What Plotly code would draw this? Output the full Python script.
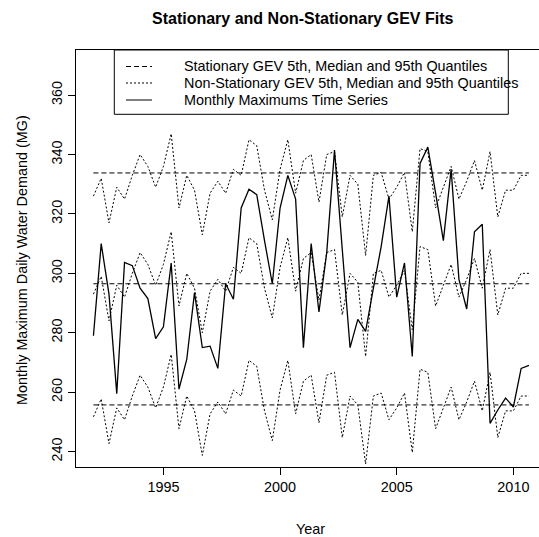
import plotly.graph_objects as go

# ---------------- data ----------------
years = [1992.000, 1992.333, 1992.667, 1993.000, 1993.333, 1993.667,
         1994.000, 1994.333, 1994.667, 1995.000, 1995.333, 1995.667,
         1996.000, 1996.333, 1996.667, 1997.000, 1997.333, 1997.667,
         1998.000, 1998.333, 1998.667, 1999.000, 1999.333, 1999.667,
         2000.000, 2000.333, 2000.667, 2001.000, 2001.333, 2001.667,
         2002.000, 2002.333, 2002.667, 2003.000, 2003.333, 2003.667,
         2004.000, 2004.333, 2004.667, 2005.000, 2005.333, 2005.667,
         2006.000, 2006.333, 2006.667, 2007.000, 2007.333, 2007.667,
         2008.000, 2008.333, 2008.667, 2009.000, 2009.333, 2009.667,
         2010.000, 2010.333, 2010.667]

monthly_max = [279, 310, 293, 259.5, 303.7, 302.6, 295, 291.5, 278, 282,
               303.5, 261, 271, 293.5, 275, 275.5, 268, 296.5, 291.3, 322,
               328.3, 326.5, 311, 296.5, 322, 333, 325, 275, 310, 287,
               307, 341.5, 308, 275, 284.5, 280.5, 295, 309, 326, 292,
               303.5, 272, 337, 342.5, 327, 311, 335, 298, 288, 314,
               316.5, 249.5, 254, 258, 255, 268, 269]

ns_q95 = [326, 332, 317, 329, 325, 333, 340, 336, 329, 336,
          347, 322, 333, 328, 313, 327, 331, 327, 335, 333,
          345, 343, 328, 318, 335, 345, 327, 338, 340, 324,
          340, 341, 319, 333, 330, 306, 333, 334, 325, 329,
          334, 314, 342, 341, 322, 329, 336, 325, 331, 338,
          328, 341, 319, 328, 328, 333, 333]

ns_median = [293, 299, 284, 296, 292, 300, 307, 303, 296, 303,
             314, 289, 300, 295, 280, 294, 298, 294, 302, 300,
             312, 310, 295, 285, 302, 312, 294, 305, 307, 291,
             307, 308, 286, 300, 297, 272, 300, 301, 292, 296,
             301, 281, 309, 308, 289, 296, 303, 292, 298, 305,
             295, 308, 286, 295, 295, 300, 300]

ns_q05 = [251.7, 257.7, 242.7, 254.7, 250.7, 258.7, 265.7, 261.7, 254.7, 261.7,
          272.7, 247.7, 258.7, 253.7, 238.7, 252.7, 256.7, 252.7, 260.7, 258.7,
          270.7, 268.7, 253.7, 243.7, 260.7, 270.7, 252.7, 263.7, 265.7, 249.7,
          265.7, 266.7, 244.7, 258.7, 255.7, 235.8, 258.7, 259.7, 250.7, 254.7,
          259.7, 239.7, 267.7, 266.7, 247.7, 254.7, 261.7, 250.7, 256.7, 263.7,
          253.7, 266.7, 244.7, 253.7, 253.7, 258.7, 258.7]

stationary_quantiles = [255.7, 296.5, 333.8]  # 5th, median, 95th

x_ticks = [1995, 2000, 2005, 2010]
y_ticks = [240, 260, 280, 300, 320, 340, 360]

legend_labels = ["Stationary GEV 5th, Median and 95th Quantiles",
                 "Non-Stationary GEV 5th, Median and 95th Quantiles",
                 "Monthly Maximums Time Series"]

# ---------------- styling ----------------
FONT = "Liberation Sans, Arial, sans-serif"
W, H = 539, 537
ML, MR, MT, MB = 76, 0, 50, 70
PW, PH = W - ML - MR, H - MT - MB
DASH = "5px,3px"
DOT = "2px,2px"


def xp(px):
    return (px - ML) / PW


def yp(py):
    return (H - MB - py) / PH


fig = go.Figure()

for q in stationary_quantiles:
    fig.add_trace(go.Scatter(x=years, y=[q] * len(years), mode="lines",
                             line=dict(color="black", width=1, dash=DASH),
                             showlegend=False, hoverinfo="skip"))

for series in (ns_q05, ns_median, ns_q95):
    fig.add_trace(go.Scatter(x=years, y=series, mode="lines",
                             line=dict(color="black", width=1, dash=DOT),
                             showlegend=False))

fig.add_trace(go.Scatter(x=years, y=monthly_max, mode="lines",
                         line=dict(color="black", width=1.3),
                         showlegend=False))

# custom legend box (R style)
shapes = [dict(type="rect", xref="paper", yref="paper",
               x0=xp(114.3), x1=xp(508.3), y0=yp(114.3), y1=yp(50),
               line=dict(color="black", width=1), fillcolor="white",
               layer="above")]
rows_y = [66.5, 83, 100]
styles = [DASH, DOT, "solid"]
annotations = []
for ry, st, lab in zip(rows_y, styles, legend_labels):
    shapes.append(dict(type="line", xref="paper", yref="paper",
                       x0=xp(126), x1=xp(152), y0=yp(ry), y1=yp(ry),
                       line=dict(color="black", width=1, dash=st),
                       layer="above"))
    annotations.append(dict(text=lab, xref="paper", yref="paper",
                            x=xp(181.5), y=yp(ry), xanchor="left",
                            yanchor="middle", showarrow=False,
                            font=dict(family=FONT, size=14.4, color="black")))

annotations.append(dict(text="<b>Stationary and Non-Stationary GEV Fits</b>",
                        xref="paper", yref="paper", x=xp(302), y=yp(18.5),
                        xanchor="center", yanchor="middle", showarrow=False,
                        font=dict(family=FONT, size=16, color="black")))
annotations.append(dict(text="Year", xref="paper", yref="paper",
                        x=xp(310), y=yp(529), xanchor="center",
                        yanchor="middle", showarrow=False,
                        font=dict(family=FONT, size=14.4, color="black")))
annotations.append(dict(text="Monthly Maximum Daily Water Demand (MG)",
                        xref="paper", yref="paper", x=xp(22), y=yp(260),
                        xanchor="center", yanchor="middle", textangle=-90,
                        showarrow=False,
                        font=dict(family=FONT, size=14.4, color="black")))

fig.update_layout(
    width=W, height=H,
    margin=dict(l=ML, r=MR, t=MT, b=MB, pad=0),
    paper_bgcolor="white", plot_bgcolor="white",
    font=dict(family=FONT, size=14.4, color="black"),
    shapes=shapes, annotations=annotations,
    xaxis=dict(range=[1991.253, 1991.253 + PW / 23.33],
               tickvals=x_ticks, ticks="outside", ticklen=7,
               tickcolor="black", tickwidth=1,
               showline=True, linecolor="black", linewidth=1, mirror=True,
               showgrid=False, zeroline=False,
               tickfont=dict(family=FONT, size=14.4, color="black")),
    yaxis=dict(range=[234.8, 375.2], tickvals=y_ticks, ticks="outside",
               ticklen=7, tickcolor="black", tickwidth=1, tickangle=-90,
               showline=True, linecolor="black", linewidth=1, mirror=False,
               showgrid=False, zeroline=False,
               tickfont=dict(family=FONT, size=14.4, color="black")),
)

fig.write_html("out.html")
